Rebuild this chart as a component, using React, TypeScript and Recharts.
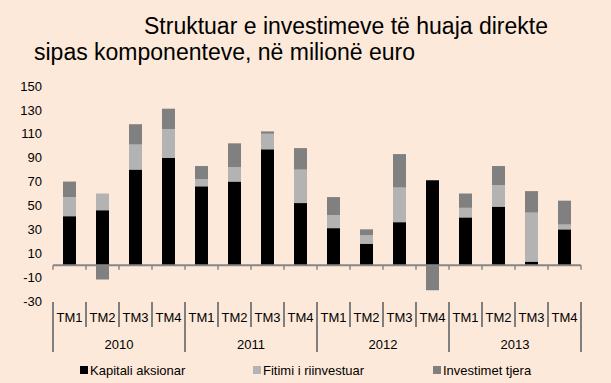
import { BarChart, Bar, XAxis, YAxis, ReferenceLine, Legend } from "recharts";

const quarters = ["TM1", "TM2", "TM3", "TM4", "TM1", "TM2", "TM3", "TM4", "TM1", "TM2", "TM3", "TM4", "TM1", "TM2", "TM3", "TM4"];
const years = ["2010", "2011", "2012", "2013"];

const kapitali = [41, 46, 80, 90, 66, 70, 97, 52, 31, 18, 36, 71, 40, 49, 3, 30];
const fitimi = [16, 14, 21, 24, 6, 12, 13, 28, 11, 7, 29, 0, 8, 18, 41, 4];
const tjera = [13, -12, 17, 17, 11, 20, 2, 18, 15, 5, 28, -21, 12, 16, 18, 20];

const yTicks = [-30, -10, 10, 30, 50, 70, 90, 110, 130, 150];

const series = [
  { key: "kapitali", name: "Kapitali aksionar", color: "#000000" },
  { key: "fitimi", name: "Fitimi i riinvestuar", color: "#b3b3b3" },
  { key: "tjera", name: "Investimet tjera", color: "#808080" },
];

const data = quarters.map((q, i) => ({
  q,
  kapitali: kapitali[i],
  fitimi: fitimi[i],
  tjera: tjera[i],
}));

const W = 611;
const H = 383;
const margin = { top: 86, right: 30, bottom: 0, left: 0 };
const Y_AXIS_W = 53;
const BAND = (W - Y_AXIS_W - margin.right) / quarters.length;
const FONT = "'Liberation Sans', Arial, sans-serif";
const GRID = "#7f7f7f";

function CategoryTick(props: any) {
  const { x, y, index, payload } = props;
  const left = x - BAND / 2;
  const yearStart = index % 4 === 0;
  return (
    <g>
      <line x1={left} x2={left} y1={y + 1} y2={y + (yearStart ? 51 : 26)} stroke={GRID} strokeWidth={2} />
      {index === quarters.length - 1 && (
        <line x1={x + BAND / 2} x2={x + BAND / 2} y1={y + 1} y2={y + 51} stroke={GRID} strokeWidth={2} />
      )}
      <text x={x} y={y + 16} dy="0.355em" textAnchor="middle" fontSize={13} fill="#000" fontFamily={FONT}>
        {payload.value}
      </text>
      {yearStart && (
        <text x={left + 2 * BAND} y={y + 43} dy="0.355em" textAnchor="middle" fontSize={13} fill="#000" fontFamily={FONT}>
          {years[index / 4]}
        </text>
      )}
    </g>
  );
}

function ZeroLine(p: any) {
  const { x1, x2, y1 } = p;
  if (x1 == null) return null;
  const band = (x2 - x1) / quarters.length;
  return (
    <g>
      <line x1={x1} x2={x2} y1={y1} y2={y1} stroke="#868686" strokeWidth={2} />
      {quarters.concat("").map((_, i) => (
        <line key={i} x1={x1 + i * band} x2={x1 + i * band} y1={y1} y2={y1 + 4.5} stroke="#868686" strokeWidth={1.5} />
      ))}
    </g>
  );
}

const legendWidths = [173, 180, 140];

function LegendContent() {
  return (
    <div style={{ height: 26, display: "flex", alignItems: "center", paddingLeft: 80, fontFamily: FONT, fontSize: 13 }}>
      {series.map((s, i) => (
        <div key={s.key} style={{ width: legendWidths[i], display: "flex", alignItems: "center" }}>
          <span style={{ width: 8, height: 8, background: s.color, marginRight: 2, display: "inline-block" }} />
          <span style={{ color: "#000" }}>{s.name}</span>
        </div>
      ))}
    </div>
  );
}

export default function App() {
  return (
    <div style={{ position: "absolute", left: 0, top: 0, width: W, height: H, background: "#fde9d9", overflow: "hidden" }}>
      <div style={{ position: "absolute", top: 13, left: 0, fontFamily: FONT, fontSize: 23, lineHeight: "26px", color: "#000", whiteSpace: "nowrap" }}>
        <div style={{ paddingLeft: 144 }}>Struktuar e investimeve të huaja direkte</div>
        <div style={{ paddingLeft: 34 }}>sipas komponenteve, në milionë euro</div>
      </div>
      <div style={{ position: "absolute", left: 0, top: 0 }}>
        <BarChart width={W} height={H} data={data} margin={margin} stackOffset="sign">
          <XAxis
            dataKey="q"
            axisLine={false}
            tickLine={false}
            tickSize={0}
            tickMargin={0}
            height={56}
            interval={0}
            tick={<CategoryTick />}
          />
          <YAxis
            type="number"
            domain={[-30, 150]}
            ticks={yTicks}
            width={Y_AXIS_W}
            axisLine={false}
            tickLine={false}
            tickSize={0}
            tickMargin={11}
            tick={{ fill: "#000", fontSize: 13, fontFamily: FONT }}
          />
          {series.map((s) => (
            <Bar key={s.key} dataKey={s.key} name={s.name} stackId="a" fill={s.color} barSize={13} isAnimationActive={false} />
          ))}
          <ReferenceLine y={0} shape={ZeroLine} />
          <Legend verticalAlign="bottom" content={<LegendContent />} />
        </BarChart>
      </div>
    </div>
  );
}
